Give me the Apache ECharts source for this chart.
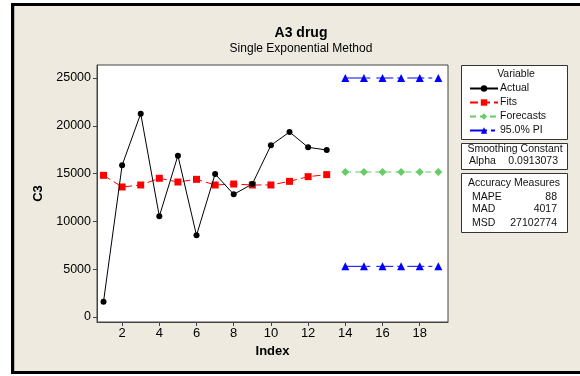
<!DOCTYPE html>
<html>
<head>
<meta charset="utf-8">
<script src="https://cdn.jsdelivr.net/npm/echarts@6/dist/echarts.min.js"></script>
<style>
html,body{margin:0;padding:0;background:#fff;overflow:hidden;}
#chart{width:580px;height:376px;}
</style>
</head>
<body>
<div id="chart"></div>
<script>
// ---- data ----
const actualIndex = [1,2,3,4,5,6,7,8,9,10,11,12,13];
const actualValues = [1600,15870,21270,10530,16880,8540,14960,12830,13910,17960,19350,17750,17470];
const fitsValues = [14820,13600,13810,14510,14120,14400,13810,13910,13810,13810,14190,14680,14890];
const forecastIndex = [14,15,16,17,18,19];
const forecastValues = [15170,15170,15170,15170,15170,15170];
const piUpperValues = [25000,25000,25000,25000,25000,25000];
const piLowerValues = [5300,5300,5300,5300,5300,5300];
const xTicks = [2,4,6,8,10,12,14,16,18];
const yTicks = [0,5000,10000,15000,20000,25000];
const titleText = 'A3 drug';
const subtitleText = 'Single Exponential Method';
const alphaValue = '0.0913073';
const accuracyLabels = ['MAPE','MAD','MSD'];
const accuracyValues = ['88','4017','27102774'];

const zip = (xs, ys) => xs.map((x, i) => [x, ys[i]]);
const FONT = 'Liberation Sans';
const chart = echarts.init(document.getElementById('chart'), null, {renderer: 'canvas'});

const F = '10.5px "Liberation Sans"';
const g = [];
g.push({type:'rect', shape:{x:461.5,y:65.5,width:106,height:74}, style:{fill:'#fff', stroke:'#333', lineWidth:1}, z:1});
g.push({type:'rect', shape:{x:461.5,y:143.5,width:106,height:26}, style:{fill:'#fff', stroke:'#333', lineWidth:1}, z:1});
g.push({type:'rect', shape:{x:461.5,y:173.5,width:106,height:59}, style:{fill:'#fff', stroke:'#333', lineWidth:1}, z:1});
g.push({type:'text', x:516, y:74, style:{text:'Variable', font:F, fill:'#111', align:'center', verticalAlign:'middle'}, z:5});
g.push({type:'text', x:515, y:149, style:{text:'Smoothing Constant', font:F, fill:'#111', align:'center', verticalAlign:'middle'}, z:5});
g.push({type:'text', x:469, y:161, style:{text:'Alpha', font:F, fill:'#111', align:'left', verticalAlign:'middle'}, z:5});
g.push({type:'text', x:558, y:161, style:{text:alphaValue, font:F, fill:'#111', align:'right', verticalAlign:'middle'}, z:5});
g.push({type:'text', x:514, y:183, style:{text:'Accuracy Measures', font:F, fill:'#111', align:'center', verticalAlign:'middle'}, z:5});
const accY = [197, 209.5, 223];
accuracyLabels.forEach((l, i) => {
  g.push({type:'text', x:472, y:accY[i], style:{text:l, font:F, fill:'#111', align:'left', verticalAlign:'middle'}, z:5});
  g.push({type:'text', x:557, y:accY[i], style:{text:accuracyValues[i], font:F, fill:'#111', align:'right', verticalAlign:'middle'}, z:5});
});

const option = {
  animation: false,
  backgroundColor: '#ffffff',
  textStyle: {fontFamily: FONT},
  graphic: [
    {type:'rect', shape:{x:11,y:3,width:569,height:371}, style:{fill:'#EEEAE0'}, z:-10, silent:true},
    {type:'line', shape:{x1:11,y1:4.5,x2:580,y2:4.5}, style:{stroke:'#000', lineWidth:3}, z:-9, silent:true},
    {type:'line', shape:{x1:12.5,y1:3,x2:12.5,y2:374}, style:{stroke:'#000', lineWidth:3}, z:-9, silent:true},
    {type:'line', shape:{x1:11,y1:372.5,x2:580,y2:372.5}, style:{stroke:'#000', lineWidth:3}, z:-9, silent:true},
    {type:'line', shape:{x1:14.5,y1:6,x2:14.5,y2:371}, style:{stroke:'#b8b4aa', lineWidth:1}, z:-9, silent:true},
    ...g
  ],
  title: {
    text: titleText,
    subtext: subtitleText,
    left: 296,
    textAlign: 'center',
    top: 21,
    itemGap: 3,
    textStyle: {fontFamily: FONT, fontSize: 14, fontWeight: 'bold', color: '#000'},
    subtextStyle: {fontFamily: FONT, fontSize: 12, color: '#000'}
  },
  legend: {
    orient: 'vertical',
    left: 464,
    top: 78,
    itemWidth: 28,
    itemHeight: 8,
    itemGap: 3,
    textStyle: {fontFamily: FONT, fontSize: 10.5, color: '#111', padding:[0,0,0,-3]},
    data: ['Actual','Fits','Forecasts','95.0% PI'],
    z: 10
  },
  grid: {left: 97, right: 132, top: 65, bottom: 54, show: true, backgroundColor: '#ffffff', borderColor: '#444', borderWidth: 1},
  xAxis: {
    type: 'value', min: 0.65, max: 19.52,
    name: 'Index', nameLocation: 'middle', nameGap: 21,
    nameTextStyle: {fontFamily: FONT, fontSize: 13, fontWeight: 'bold', color: '#000'},
    axisLine: {show: true, onZero: false, lineStyle: {color: '#444'}},
    axisTick: {show: true, length: 4, customValues: xTicks, lineStyle: {color: '#444'}},
    axisLabel: {customValues: xTicks, fontFamily: FONT, fontSize: 13, color: '#000', margin: 5},
    splitLine: {show: false}
  },
  yAxis: {
    type: 'value', min: -523, max: 26360,
    name: 'C3', nameLocation: 'middle', nameGap: 50, nameRotate: 90,
    nameTextStyle: {fontFamily: FONT, fontSize: 13, fontWeight: 'bold', color: '#000'},
    axisLine: {show: true, onZero: false, lineStyle: {color: '#444'}},
    axisTick: {show: true, length: 4, customValues: yTicks, lineStyle: {color: '#444'}},
    axisLabel: {customValues: yTicks, formatter: v => String(v), fontFamily: FONT, fontSize: 12.5, color: '#000', margin: 6},
    splitLine: {show: false}
  },
  series: [
    {name:'Actual', type:'line', data: zip(actualIndex, actualValues), symbol:'circle', symbolSize:6,
     itemStyle:{color:'#000'}, lineStyle:{color:'#000', width:1}, z:4},
    {name:'Fits', type:'line', data: zip(actualIndex, fitsValues), symbol:'rect', symbolSize:7,
     itemStyle:{color:'#ff0000'}, lineStyle:{color:'#ff0000', width:1, type:[8,4]}, z:3},
    {name:'Forecasts', type:'line', data: zip(forecastIndex, forecastValues), symbol:'diamond', symbolSize:8,
     itemStyle:{color:'#66cc66'}, lineStyle:{color:'#66cc66', width:1, type:[6,4]}, z:3},
    {name:'95.0% PI', type:'line', data: zip(forecastIndex, piUpperValues), symbol:'triangle', symbolSize:8,
     itemStyle:{color:'#0000ff'}, lineStyle:{color:'#0000ff', width:1, type:[17,4,4,6]}, z:3},
    {name:'95.0% PI', type:'line', data: zip(forecastIndex, piLowerValues), symbol:'triangle', symbolSize:8,
     itemStyle:{color:'#0000ff'}, lineStyle:{color:'#0000ff', width:1, type:[17,4,4,6]}, z:3}
  ]
};
chart.setOption(option);
</script>
</body>
</html>
